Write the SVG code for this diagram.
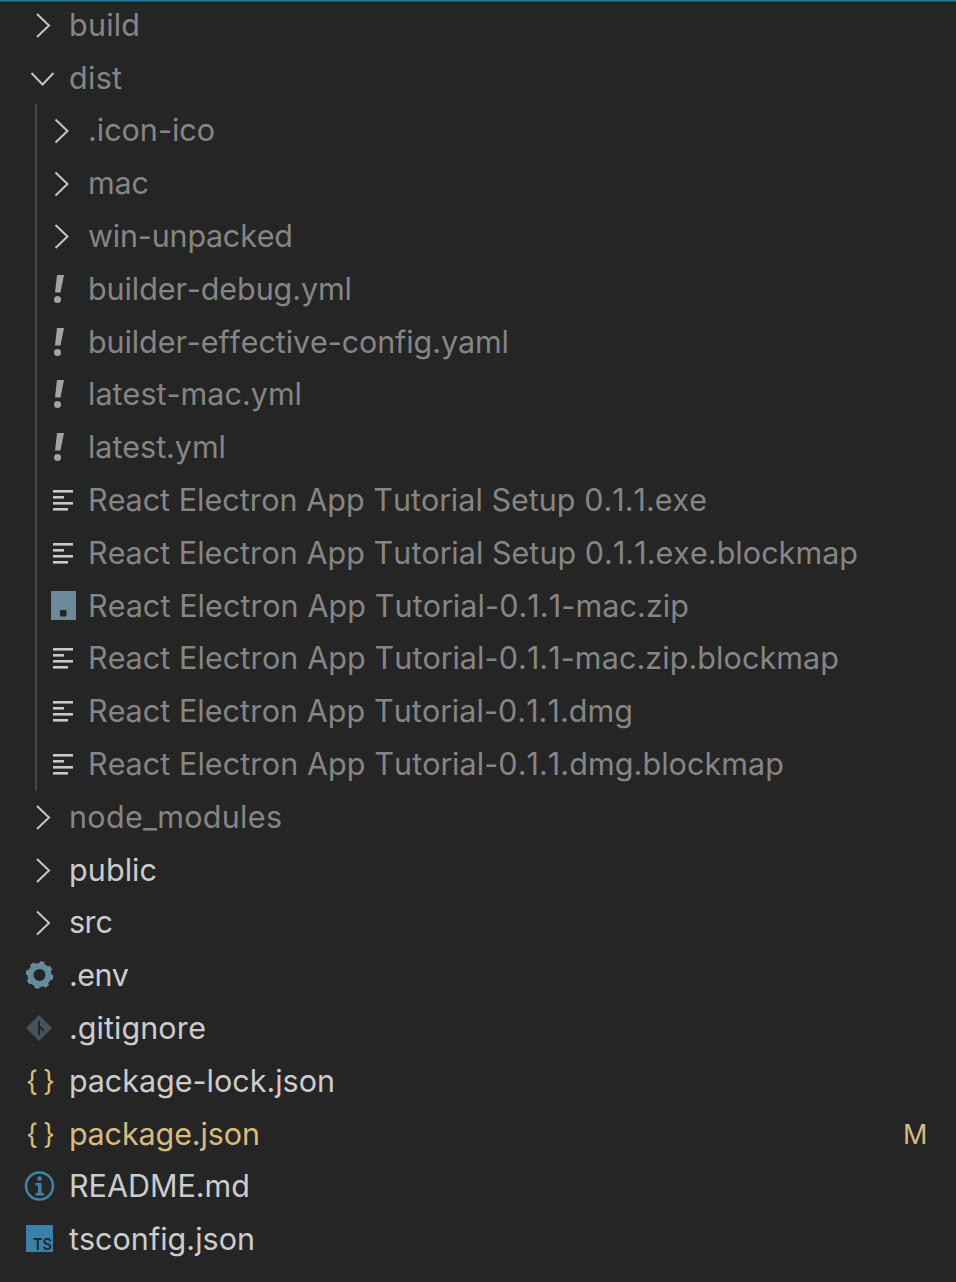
<svg xmlns="http://www.w3.org/2000/svg" width="956" height="1282" viewBox="0 0 956 1282">
<style>
text{font-family:"Inter","Noto Sans",sans-serif;font-size:30.5px;fill:#cccccc;font-kerning:none}
.d{fill:#858585}
.y{fill:#d7ba7d}
.c{fill:none;stroke:#c5c5c5;stroke-width:2}
.l{fill:#c8c8c8}
.b{font-size:28px;fill:#d9bd74}
</style>
<defs>
<path id="cr" class="c" d="M-6,-11.500L6,0L-6,11.500"/>
<g id="ex"><path d="M-1.500,-14.500L5.500,-14.500L2,3L-3.500,3Z" fill="#a3a3a3"/><circle cx="-1" cy="10" r="3.500" fill="#a3a3a3"/></g>
<g id="tx"><rect x="0" y="-9.500" width="20" height="2.600" class="l"/><rect x="0" y="-3.500" width="11" height="2.600" class="l"/><rect x="0" y="2.500" width="20" height="2.600" class="l"/><rect x="0" y="8.500" width="15" height="2.600" class="l"/></g>
<pattern id="m" width="3" height="3" patternUnits="userSpaceOnUse"><rect width="3" height="3" fill="#5b90ab"/><rect width="1.500" height="1.500" fill="#7d8588"/><rect x="1.500" y="1.500" width="1.500" height="1.500" fill="#7d8588"/></pattern>
</defs>
<rect width="956" height="1282" fill="#252526"/>
<rect width="956" height="1.500" fill="#1f7a9c"/>
<g id="connectors"><rect x="35" y="104" width="2" height="687" fill="#434648"/></g>
<g id="n1"><use href="#cr" x="43" y="25.500"/><text class="d" x="69" y="36" textLength="71">build</text></g>
<g id="n2"><path class="c" d="M31.500,73L42.500,84.500L53.500,73"/><text class="d" x="69" y="89" textLength="53">dist</text></g>
<g id="n3"><use href="#cr" x="61.500" y="131"/><text class="d" x="88" y="141" textLength="127">.icon-ico</text></g>
<g id="n4"><use href="#cr" x="61.500" y="184"/><text class="d" x="88" y="194" textLength="61">mac</text></g>
<g id="n5"><use href="#cr" x="61.500" y="236.500"/><text class="d" x="88" y="247" textLength="205">win-unpacked</text></g>
<g id="n6"><use href="#ex" x="58.500" y="289.500"/><text class="d" x="88" y="300" textLength="264">builder-debug.yml</text></g>
<g id="n7"><use href="#ex" x="58.500" y="342.500"/><text class="d" x="88" y="353" textLength="421">builder-effective-config.yaml</text></g>
<g id="n8"><use href="#ex" x="58.500" y="394.500"/><text class="d" x="88" y="405" textLength="214">latest-mac.yml</text></g>
<g id="n9"><use href="#ex" x="58.500" y="447.500"/><text class="d" x="88" y="458" textLength="138">latest.yml</text></g>
<g id="n10"><use href="#tx" x="53" y="499.500"/><text class="d" x="88" y="511" textLength="619">React Electron App Tutorial Setup 0.1.1.exe</text></g>
<g id="n11"><use href="#tx" x="53" y="552.500"/><text class="d" x="88" y="564" textLength="770">React Electron App Tutorial Setup 0.1.1.exe.blockmap</text></g>
<g id="n12"><rect x="51.500" y="591.500" width="24" height="28" fill="url(#m)" stroke="#7b8184"/><rect x="60" y="610" width="6.500" height="6.500" fill="#252526" rx="1"/><text class="d" x="88" y="617" textLength="601">React Electron App Tutorial-0.1.1-mac.zip</text></g>
<g id="n13"><use href="#tx" x="53" y="657.500"/><text class="d" x="88" y="669" textLength="751">React Electron App Tutorial-0.1.1-mac.zip.blockmap</text></g>
<g id="n14"><use href="#tx" x="53" y="710.500"/><text class="d" x="88" y="722" textLength="545">React Electron App Tutorial-0.1.1.dmg</text></g>
<g id="n15"><use href="#tx" x="53" y="763.500"/><text class="d" x="88" y="775" textLength="696">React Electron App Tutorial-0.1.1.dmg.blockmap</text></g>
<g id="n16"><use href="#cr" x="43" y="817.500"/><text class="d" x="69" y="828" textLength="213">node_modules</text></g>
<g id="n17"><use href="#cr" x="43" y="870.500"/><text x="69" y="881" textLength="88">public</text></g>
<g id="n18"><use href="#cr" x="43" y="923"/><text x="69" y="933" textLength="44">src</text></g>
<g id="n19"><circle cx="39.500" cy="975" r="9" fill="none" stroke="#5f8ba3" stroke-width="6"/><circle cx="39.500" cy="975" r="12" fill="none" stroke="#7b8a93" stroke-width="3.500" stroke-dasharray="4.700 4.700"/><text x="69" y="986" textLength="60">.env</text></g>
<g id="n20"><path d="M39,1015L52,1028L39,1041L26,1028Z" fill="#47525c"/><path d="M39,1021V1035M39,1026L44,1031" fill="none" stroke="#252526" stroke-width="2"/><text x="69" y="1039" textLength="137">.gitignore</text></g>
<g id="n21"><text class="b" x="26 36 43" y="1091">{ }</text><text x="69" y="1092" textLength="266">package-lock.json</text></g>
<g id="n22"><text class="b" x="26 36 43" y="1144">{ }</text><text class="y" x="69" y="1145" textLength="191">package.json</text><text class="y" x="903" y="1144" style="font-size:27px" textLength="23">M</text></g>
<g id="n23"><circle cx="39.500" cy="1186" r="13.500" fill="none" stroke="#3b86a8" stroke-width="2.500"/><circle cx="39.500" cy="1178.500" r="2.300" fill="#3b86a8"/><path d="M35.500,1183H41.500V1193H44V1195.500H35.500V1193H38V1185.500H35.500Z" fill="#3b86a8"/><text x="69" y="1197" textLength="181">README.md</text></g>
<g id="n24"><rect x="26" y="1225" width="27" height="27" fill="#3b80a8"/><text x="33" y="1250" style="font-size:16px;font-weight:600;fill:#252526" textLength="19" lengthAdjust="spacingAndGlyphs">TS</text><text x="69" y="1250" textLength="186">tsconfig.json</text></g>
</svg>
